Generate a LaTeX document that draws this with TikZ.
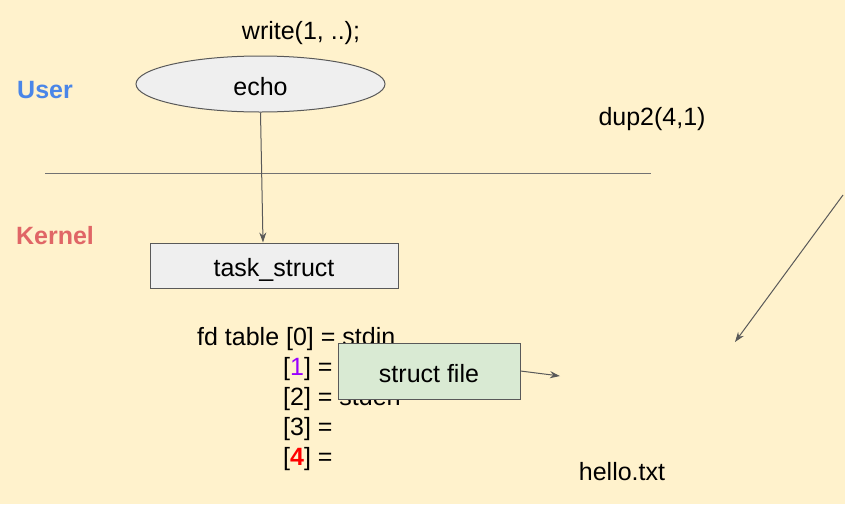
\documentclass[tikz,border=0pt]{standalone}
\usepackage{fontspec}
\setmainfont{Liberation Sans}
\usetikzlibrary{arrows.meta,shapes.geometric}
\definecolor{bg}{HTML}{FFF2CC}
\definecolor{edge}{HTML}{595959}
\definecolor{boxgray}{HTML}{EFEFEF}
\definecolor{boxgreen}{HTML}{D9EAD3}
\definecolor{userblue}{HTML}{4A86E8}
\definecolor{kernelred}{HTML}{E06666}
\definecolor{purp}{HTML}{9900FF}
\begin{document}
\begin{tikzpicture}[x=1pt,y=-1pt,
  txt/.style={inner sep=0pt,font=\fontsize{25}{30}\selectfont,text=black},
  lbl/.style={inner sep=0pt,font=\fontsize{25}{30}\selectfont\bfseries},
  rectbox/.style={draw=edge,line width=1pt,inner sep=0pt,text height=24pt,text depth=2pt,font=\fontsize{25}{30}\selectfont},
  arr/.style={draw=edge,line width=1pt,-{Stealth[length=10pt,width=7pt]}},
  sepline/.style={draw=edge!85,line width=1pt}]
\useasboundingbox[fill=bg] (0,0) rectangle (845,504);
\node[txt] (write) at (301,33) {write(1, ..);};
\node[lbl,text=userblue] (user) at (45,90) {User};
\node[ellipse,draw=edge,line width=1pt,fill=boxgray,minimum width=249,minimum height=56,inner sep=0pt,text height=24pt,text depth=2pt,font=\fontsize{25}{30}\selectfont] (echo) at (260.5,84) {echo};
\coordinate (sepL) at (45,173);
\coordinate (sepR) at (651,173);
\draw[sepline] (sepL) -- (sepR);
\node[lbl,text=kernelred] (kernel) at (55,236) {Kernel};
\node[rectbox,fill=boxgray,minimum width=248,minimum height=45] (task) at (274,265.5) {task\_struct};
\draw[arr] (echo.south) -- ([xshift=-11pt]task.north);
\node[txt] (dup) at (652,119) {dup2(4,1)};
\coordinate (dA) at (843,195);
\coordinate (dB) at (735,342);
\draw[arr] (dA) -- (dB);
\node[txt,anchor=base west] (fd0) at (197,345) {fd table [0] = stdin};
\node[txt,anchor=base west] (fd1) at (283,375) {[\textcolor{purp}{1}] =};
\node[txt,anchor=base west] (fd2) at (283,405) {[2] = stderr};
\node[txt,anchor=base west] (fd3) at (283,435) {[3] =};
\node[txt,anchor=base west] (fd4) at (283,465) {[\textcolor{red}{\bfseries 4}] =};
\node[rectbox,fill=boxgreen,minimum width=182,minimum height=56] (sf) at (429,371) {struct file};
\coordinate (sfend) at (560,376);
\draw[arr] (sf.east) -- (sfend);
\node[txt] (hello) at (622,472) {hello.txt};
\end{tikzpicture}
\end{document}
